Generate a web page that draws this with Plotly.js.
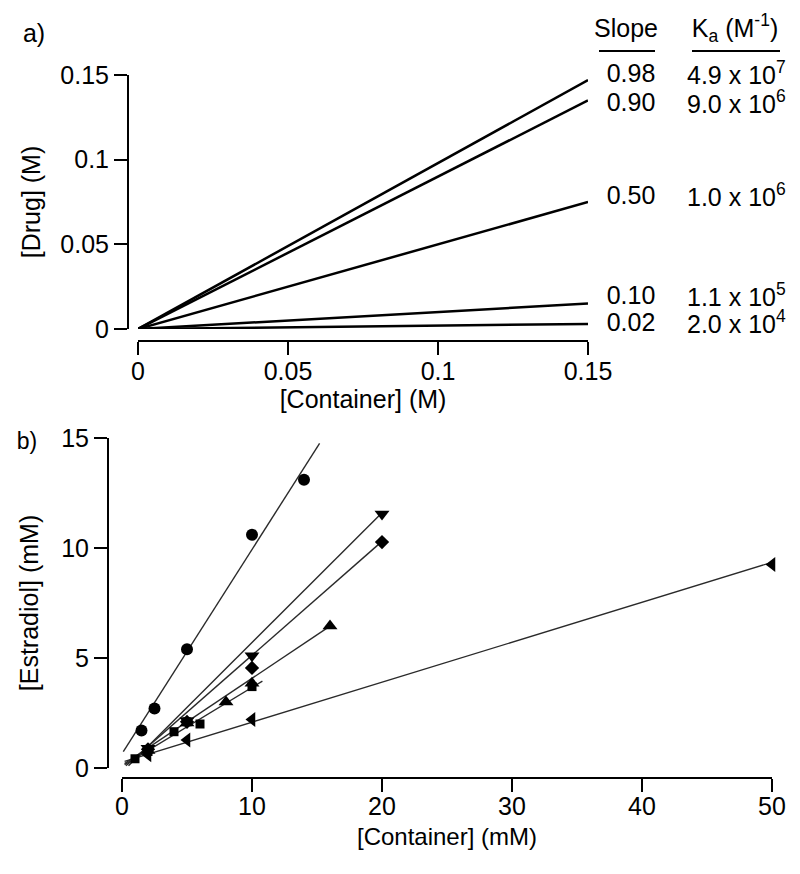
<!DOCTYPE html>
<html><head><meta charset="utf-8">
<script src="https://cdn.plot.ly/plotly-3.0.1.min.js"></script>
<style>html,body{margin:0;padding:0;background:#fff}</style>
</head><body><div id="chart" style="width:800px;height:874px"></div>
<script>
// ---------- Panel a data ----------
const aSlopes = ['0.98', '0.90', '0.50', '0.10', '0.02'];
const aKa = ['4.9 x 10<sup>7</sup>', '9.0 x 10<sup>6</sup>', '1.0 x 10<sup>6</sup>', '1.1 x 10<sup>5</sup>', '2.0 x 10<sup>4</sup>'];
const aLineX = [0, 0.15];
const aEndY = [0.147, 0.135, 0.075, 0.015, 0.003];
const aTickVals = [0, 0.05, 0.1, 0.15];
const aTickText = ['0', '0.05', '0.1', '0.15'];

// ---------- Panel b data ----------
const circX = [1.5, 2.5, 5, 10, 14];
const circY = [1.7, 2.7, 5.4, 10.6, 13.1];
const downX = [2, 5, 10, 20];
const downY = [0.9, 2.15, 5.1, 11.55];
const diaX = [2, 5, 10, 20];
const diaY = [0.85, 2.1, 4.55, 10.27];
const upX = [2, 5, 8, 10, 16];
const upY = [0.8, 2.05, 3.0, 3.85, 6.45];
const sqX = [1, 2, 4, 5, 6, 10];
const sqY = [0.42, 0.75, 1.65, 2.1, 2.0, 3.7];
const leftX = [2, 5, 10, 50];
const leftY = [0.6, 1.27, 2.2, 9.25];
// fitted lines (end points)
const circFitX = [0.1, 15.2], circFitY = [0.74, 14.76];
const downFitX = [0.5, 20], downFitY = [0.1, 11.6];
const diaFitX = [0.3, 20], diaFitY = [0.1, 10.3];
const upFitX = [0.2, 16], upFitY = [0.2, 6.45];
const sqFitX = [0.2, 10.8], sqFitY = [0.15, 3.95];
const leftFitX = [0.2, 50], leftFitY = [0.3, 9.35];

const W = 800, H = 874;
const px = v => v / W;
const py = v => 1 - v / H;
const FONT = 'Liberation Sans, Arial, Helvetica, sans-serif';

const traces = [];
aEndY.forEach((ey, i) => {
  traces.push({x: aLineX, y: [0, ey], mode: 'lines', xaxis: 'x', yaxis: 'y',
    line: {color: '#000', width: 2.5}, name: aSlopes[i]});
});

function fit(xs, ys) {
  traces.push({x: xs, y: ys, mode: 'lines', xaxis: 'x2', yaxis: 'y2',
    line: {color: '#2a2a2a', width: 1.4}, hoverinfo: 'skip'});
}
function pts(xs, ys, sym, size) {
  traces.push({x: xs, y: ys, mode: 'markers', xaxis: 'x2', yaxis: 'y2', cliponaxis: false,
    marker: {symbol: sym, size: size, color: '#000'}});
}
fit(circFitX, circFitY); fit(downFitX, downFitY); fit(diaFitX, diaFitY);
fit(upFitX, upFitY); fit(sqFitX, sqFitY); fit(leftFitX, leftFitY);
pts(sqX, sqY, 'square', 9);
pts(leftX, leftY, 'triangle-left', 13);
pts(upX, upY, 'triangle-up', 13);
pts(diaX, diaY, 'diamond', 11);
pts(downX, downY, 'triangle-down', 13);
pts(circX, circY, 'circle', 12);

const axStyle = {
  showline: true, linecolor: '#000', linewidth: 2, ticks: 'outside', ticklen: 13,
  tickwidth: 2, tickcolor: '#000', showgrid: false, zeroline: false, automargin: false,
  tickfont: {family: FONT, size: 25, color: '#000'}, fixedrange: true
};

// annotation: box of given width/height (px) centred (or left-aligned) at a pixel position
function ann(text, x, y, size, w, h, left) {
  return {text: text, x: px(x), y: py(y), xref: 'paper', yref: 'paper', showarrow: false,
    width: w, height: h, align: left ? 'left' : 'center', valign: 'middle',
    xanchor: left ? 'left' : 'center', yanchor: 'middle', borderpad: 0,
    font: {family: FONT, size: size, color: '#000'}};
}

const rowPy = [73, 102, 195, 295, 322];
const annotations = [
  ann('a)', 34, 33, 25, 26, 28),
  ann('b)', 27, 441, 23, 24, 26),
  ann('Slope', 626, 28, 25, 70, 28),
  ann('K<sub>a</sub> (M<sup>-1</sup>)', 735, 28, 25, 96, 30)
];
aSlopes.forEach((s, i) => {
  annotations.push(ann(s, 631, rowPy[i], 25, 54, 28));
  annotations.push(ann(aKa[i], 686, rowPy[i], 25, 100, 30, true));
});

const layout = {
  width: W, height: H, margin: {l: 0, r: 0, t: 0, b: 0},
  paper_bgcolor: '#fff', plot_bgcolor: '#fff', showlegend: false, hovermode: false,
  font: {family: FONT, color: '#000'},
  xaxis: Object.assign({}, axStyle, {domain: [px(138), px(588)], range: [0, 0.15], anchor: 'free', position: py(341),
    tickvals: aTickVals, ticktext: aTickText, ticklabelstandoff: -5,
    title: {text: '[Container] (M)', font: {family: FONT, size: 25}, standoff: 4}}),
  yaxis: Object.assign({}, axStyle, {domain: [py(329), py(75)], range: [0, 0.15], anchor: 'free', position: px(128),
    tickvals: aTickVals, ticktext: aTickText,
    title: {text: '[Drug] (M)', font: {family: FONT, size: 25}, standoff: 12}}),
  xaxis2: Object.assign({}, axStyle, {domain: [px(122), px(772)], range: [0, 50], anchor: 'free', position: py(778),
    dtick: 10, tick0: 0, ticklabelstandoff: -7,
    title: {text: '[Container] (mM)', font: {family: FONT, size: 24}, standoff: 8}}),
  yaxis2: Object.assign({}, axStyle, {domain: [py(768), py(438)], range: [0, 15], anchor: 'free', position: px(108),
    dtick: 5, tick0: 0,
    title: {text: '[Estradiol] (mM)', font: {family: FONT, size: 25}, standoff: 14}}),
  shapes: [
    {type: 'line', xref: 'paper', yref: 'paper', x0: px(599), x1: px(655), y0: py(51), y1: py(51), line: {color: '#000', width: 2}},
    {type: 'line', xref: 'paper', yref: 'paper', x0: px(692), x1: px(780), y0: py(51), y1: py(51), line: {color: '#000', width: 2}}
  ],
  annotations: annotations
};

Plotly.newPlot('chart', traces, layout, {displayModeBar: false});
</script>
</body></html>
